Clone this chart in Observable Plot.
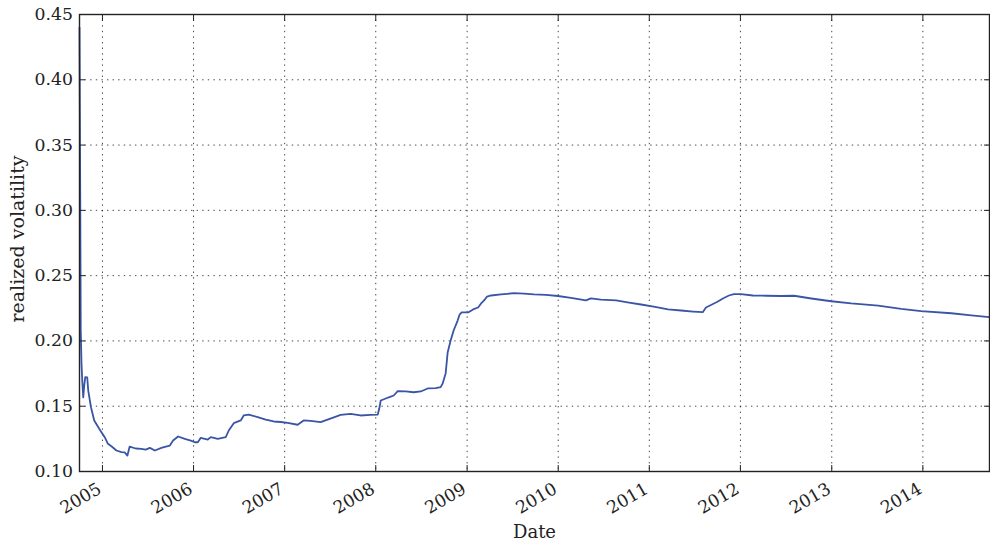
<!DOCTYPE html>
<html>
<head>
<meta charset="utf-8">
<script src="https://cdn.jsdelivr.net/npm/d3@7"></script>
<script src="https://cdn.jsdelivr.net/npm/@observablehq/plot@0.6"></script>
<style>
  html, body { margin: 0; padding: 0; background: #fff; }
</style>
</head>
<body>
<div id="chart"></div>
<script>
const dates = [
"2004-10-01","2004-10-04","2004-10-06","2004-10-09","2004-10-12","2004-10-16","2004-10-20","2004-10-24","2004-11-01","2004-11-05","2004-11-16","2004-11-29","2004-12-19",
"2005-01-10","2005-01-23","2005-02-07","2005-02-26","2005-03-18","2005-03-31","2005-04-11","2005-04-20","2005-05-14","2005-06-06","2005-06-23","2005-07-10","2005-07-30","2005-08-25","2005-09-12","2005-09-28","2005-10-11","2005-10-31","2005-11-27","2005-12-21",
"2006-01-06","2006-01-18","2006-01-30","2006-02-27","2006-03-11","2006-04-08","2006-05-10","2006-05-22","2006-06-11","2006-07-09","2006-07-21","2006-08-10","2006-09-15","2006-10-17","2006-11-18","2006-12-16",
"2007-01-13","2007-02-22","2007-03-18","2007-04-15","2007-05-25","2007-06-22","2007-07-20","2007-08-13","2007-09-22","2007-11-01","2007-12-11",
"2008-01-09","2008-01-15","2008-01-21","2008-02-10","2008-03-01","2008-03-13","2008-03-29","2008-04-30","2008-06-01","2008-06-29","2008-07-27","2008-08-28","2008-09-17","2008-09-25","2008-10-07","2008-10-15","2008-10-27","2008-11-08","2008-11-24","2008-12-02","2008-12-10",
"2009-01-05","2009-01-25","2009-02-14","2009-02-26","2009-03-10","2009-03-22","2009-04-07","2009-05-17","2009-07-08","2009-08-17","2009-09-26","2009-11-13","2009-12-31",
"2010-02-21","2010-04-22","2010-05-12","2010-06-21","2010-08-21","2010-10-12","2010-11-29",
"2011-01-24","2011-03-17","2011-05-08","2011-06-25","2011-08-03","2011-08-16","2011-09-05","2011-09-29","2011-10-23","2011-11-16","2011-12-06",
"2012-01-03","2012-02-20","2012-04-13","2012-06-12","2012-08-03","2012-10-11","2012-12-30",
"2013-03-20","2013-07-06","2013-10-06","2013-12-25",
"2014-04-25","2014-07-14","2014-09-24"
];
const volatility = [
0.44,0.3075,0.208,0.1827,0.1697,0.1567,0.1659,0.1722,0.172,0.162,0.1492,0.1391,0.1327,
0.1263,0.1212,0.1191,0.1161,0.1148,0.1146,0.1122,0.1191,0.1176,0.1174,0.1168,0.1181,0.1161,0.1181,0.1191,0.1199,0.1237,0.1268,0.125,0.1237,
0.1224,0.1224,0.1258,0.1245,0.1263,0.125,0.1263,0.1314,0.137,0.1391,0.1429,0.1436,0.1416,0.1398,0.1383,0.1379,
0.1373,0.1358,0.1391,0.1387,0.1378,0.1398,0.1417,0.1434,0.1442,0.1429,0.1433,
0.1436,0.1482,0.1544,0.1559,0.1574,0.1582,0.1615,0.1613,0.1607,0.1613,0.1636,0.1639,0.1646,0.1674,0.1751,0.1911,0.2003,0.208,0.2156,0.2202,0.2218,
0.2218,0.2241,0.2256,0.2287,0.231,0.234,0.2348,0.2356,0.2366,0.2363,0.2356,0.2353,0.2344,
0.2329,0.231,0.2326,0.2317,0.231,0.2294,0.2279,
0.226,0.2241,0.2233,0.2225,0.222,0.2256,0.2275,0.2298,0.2325,0.2348,0.2359,
0.2358,0.2348,0.2346,0.2344,0.2346,0.2325,0.2304,
0.2287,0.2271,0.2245,0.2228,
0.2212,0.2196,0.2183
];
const yearTicks = [2005, 2006, 2007, 2008, 2009, 2010, 2011, 2012, 2013, 2014];
const yTicks = [0.10, 0.15, 0.20, 0.25, 0.30, 0.35, 0.40, 0.45];
const xDomain = ["2004-10-01", "2014-09-25"];
const yLabel = "realized volatility";
const xLabel = "Date";

const data = dates.map((d, i) => ({date: new Date(d + "T00:00:00Z"), value: volatility[i]}));
const tickDates = yearTicks.map(y => new Date(Date.UTC(y, 0, 1)));

const gridStyle = {stroke: "#000", strokeOpacity: 0.9, strokeWidth: 0.8, strokeDasharray: "1.4,4.2"};

const chart = Plot.plot({
  width: 990,
  height: 543,
  marginTop: 14,
  marginLeft: 79,
  marginRight: 1,
  marginBottom: 72,
  style: {fontFamily: "DejaVu Serif", fontSize: "17.3px", color: "#222", background: "#fff"},
  x: {type: "utc", domain: xDomain.map(d => new Date(d + "T00:00:00Z"))},
  y: {domain: [0.10, 0.45]},
  marks: [
    Plot.gridX(tickDates, {...gridStyle}),
    Plot.gridY(yTicks, {...gridStyle}),
    Plot.line(data, {x: "date", y: "value", stroke: "#3a55a6", strokeWidth: 1.8, curve: "linear"}),
    Plot.axisY(yTicks, {anchor: "left", tickSize: 0, tickPadding: 6.5, tickFormat: d3.format(".2f"), label: null, fill: "#222"}),
    Plot.axisY(yTicks, {anchor: "left", tickSize: 6, dx: 6, fill: "none", label: null, stroke: "#222"}),
    Plot.axisY(yTicks, {anchor: "right", tickSize: 6, dx: -6, fill: "none", label: null, stroke: "#222"}),
    Plot.axisX(tickDates, {anchor: "bottom", tickSize: 6, dy: -6, fill: "none", label: null, stroke: "#222"}),
    Plot.axisX(tickDates, {anchor: "top", tickSize: 6, dy: 6, fill: "none", label: null, stroke: "#222"}),
    Plot.text(tickDates, {x: d => d, frameAnchor: "bottom", text: d => String(d.getUTCFullYear()), rotate: -30, textAnchor: "end", lineAnchor: "top", dx: -6, dy: 10, fill: "#222"}),
    Plot.text([yLabel], {frameAnchor: "left", text: d => d, rotate: -90, textAnchor: "middle", lineAnchor: "middle", dx: -62, dy: -4, fontSize: 19, fill: "#222"}),
    Plot.text([xLabel], {frameAnchor: "bottom", text: d => d, textAnchor: "middle", lineAnchor: "middle", dy: 61, fontSize: 18, fill: "#222"}),
    Plot.frame({stroke: "#222", strokeWidth: 1.4})
  ]
});
document.getElementById("chart").appendChild(chart);
</script>
</body>
</html>
